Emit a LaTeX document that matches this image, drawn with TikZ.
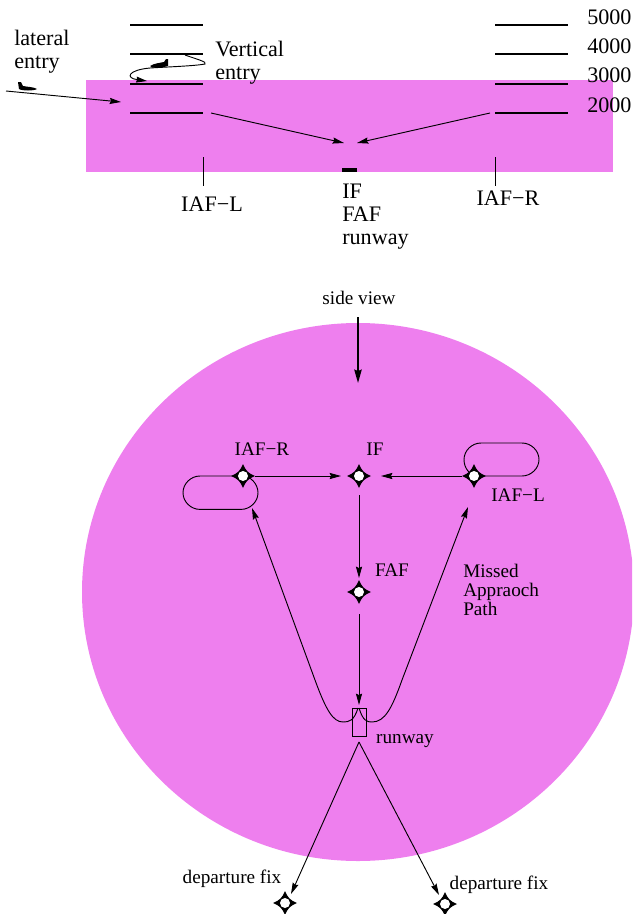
\documentclass[tikz,border=0pt]{standalone}
\usepackage{fontspec}
\setmainfont{Liberation Serif}
\usetikzlibrary{arrows.meta}
\definecolor{pinkfill}{RGB}{238,127,238}
\tikzset{
  x=0.75pt,y=-0.75pt,
  lbl/.style={inner sep=0pt,font=\fontsize{16.6}{17}\selectfont,align=left},
  lblsmall/.style={inner sep=0pt,font=\fontsize{14.4}{14.2}\selectfont,align=left},
  levelbar/.style={line width=1.8pt},
  conn/.style={line width=0.7pt,-{Stealth[length=8.5pt,width=4.6pt,inset=1pt]}},
  plainline/.style={line width=0.7pt},
  plane/.style={fill=black,draw=none},
  fixmark/.pic={
    \fill[black] (0,-12) .. controls (2.5,-5.5) and (5.5,-2.5) .. (12,0) .. controls (5.5,2.5) and (2.5,5.5) .. (0,12)
      .. controls (-2.5,5.5) and (-5.5,2.5) .. (-12,0) .. controls (-5.5,-2.5) and (-2.5,-5.5) .. (0,-12) -- cycle;
    \fill[white] (0,0) circle[radius=5];
  }
}
\begin{document}
\begin{tikzpicture}
\useasboundingbox (0,0) rectangle (632,914);
% backgrounds
\begin{scope}
\clip (0,0) rectangle (632,914);
\fill[pinkfill] (86,80) rectangle (613,172);
\fill[pinkfill] (358,592) ellipse[x radius=276,y radius=269];
\end{scope}
% level bars
\foreach \y in {25,54,84,113}{
  \draw[levelbar] (130,\y) -- (203,\y);
  \draw[levelbar] (495,\y) -- (568,\y);
}
\coordinate (lbarEnd) at (211,113);
\coordinate (rbarEnd) at (490,113);
\coordinate (ifTop) at (344,143);
\coordinate (ifTopR) at (357,143);
\coordinate (latStart) at (6,91);
\coordinate (latEnd) at (121,102);
\draw[line width=2.6pt] (342,170) -- (357,170);
\draw[conn] (lbarEnd) -- (ifTop);
\draw[conn] (rbarEnd) -- (ifTopR);
\draw[conn] (latStart) -- (latEnd);
\draw[plainline] (203,157) -- (203,186);
\draw[plainline] (495,157) -- (495,186);
% vertical entry spiral
\coordinate (vertStart) at (185,55);
\coordinate (vertEnd) at (147,81);
\draw[line width=0.7pt,-{Stealth[length=8pt,width=4.4pt,inset=0.5pt]}] (vertStart) .. controls (196,59) and (208,62) .. (205,64)
  .. controls (195,66) and (165,67) .. (150,68) .. controls (128,70) and (125,78) .. (vertEnd);
% planes
\fill[plane] (150,66) .. controls (155,63) and (160,63) .. (164,62) -- (166,59) -- (168,59) -- (168,66) .. controls (160,68) and (152,69) .. (150,66) -- cycle;
\fill[plane] (18,82) -- (21,82) -- (23,86) .. controls (28,87) and (34,87) .. (37,89) .. controls (34,91) and (22,91) .. (19,89) -- cycle;
% top labels
\node[lbl,anchor=north west] (lat) at (14,30) {lateral\\entry};
\node[lbl,anchor=north west] (vert) at (215,41) {Vertical\\entry};
\node[lbl,anchor=west] (l5) at (587,17) {5000};
\node[lbl,anchor=west] (l4) at (587,46) {4000};
\node[lbl,anchor=west] (l3) at (587,75) {3000};
\node[lbl,anchor=west] (l2) at (587,105) {2000};
\node[lbl] (iafl) at (212,204) {IAF−L};
\node[lbl] (iafr) at (508,198) {IAF−R};
\node[lbl,anchor=north west] (stack) at (342,184) {IF\\FAF\\runway};
% plan view
\node[lblsmall] (side) at (359,298) {side view};
\coordinate (sideS) at (358,317);
\coordinate (sideE) at (358,383);
\draw[line width=1.4pt,-{Stealth[length=10pt,width=5.5pt,inset=1pt]}] (sideS) -- (sideE);
\coordinate (IAFR) at (243,476);
\coordinate (IF) at (359,476);
\coordinate (IAFL) at (474,476);
\coordinate (FAF) at (359,592);
\coordinate (depL) at (285,903);
\coordinate (depR) at (445,904);
% holding patterns
\draw[plainline] (IAFR) -- (200,476) .. controls (191,476) and (183,483.5) .. (183,492.7)
  .. controls (183,502) and (191,509.4) .. (200,509.4) -- (241,509.4)
  .. controls (250,509.4) and (258,502) .. (258,492.7) .. controls (258,483.5) and (250,476) .. (IAFR);
\draw[plainline] (IAFL) -- (522,476) .. controls (531,476) and (539,468.5) .. (539,459.5)
  .. controls (539,450.5) and (531,443) .. (522,443) -- (481,443)
  .. controls (472,443) and (464,450.5) .. (464,459.5) .. controls (464,468.5) and (470,474) .. (IAFL);
% fixes
\pic at (IAFR) {fixmark};
\pic at (IF) {fixmark};
\pic at (IAFL) {fixmark};
\pic at (FAF) {fixmark};
\pic at (depL) {fixmark};
\pic at (depR) {fixmark};
% connectors
\coordinate (rnwTop) at (359,705);
\coordinate (rnwBot) at (359,742);
\draw[conn] (IAFR) ++(12,0) -- (341,476);
\draw[conn] (IAFL) ++(-12,0) -- (381,476);
\draw[conn] (359,495) -- (359,578);
\draw[conn] (359,614) -- (rnwTop);
\draw[conn] (rnwBot) -- (291,894);
\draw[conn] (rnwBot) -- (439,895);
% runway
\draw[plainline] (352,708) rectangle (366,736);
% missed approach
\draw[conn] (358,708) .. controls (354,721) and (349,722) .. (343,722)
  .. controls (333,722) and (326,710) .. (315,680) -- (252,508);
\draw[conn] (359,708) .. controls (363,721) and (367,722) .. (372,722)
  .. controls (385,722) and (392,708) .. (402,680) -- (468,507);
% plan labels
\node[lblsmall] (tR) at (262,449) {IAF−R};
\node[lblsmall] (tIF) at (375,449) {IF};
\node[lblsmall] (tL) at (518,495) {IAF−L};
\node[lblsmall] (tFAF) at (392,570) {FAF};
\node[lblsmall,anchor=north west] (miss) at (463,564) {Missed\\Appraoch\\Path};
\node[lblsmall] (tRun) at (405,741) {runway};
\node[lblsmall] (dL) at (232,879) {departure fix};
\node[lblsmall] (dR) at (499,885) {departure fix};
\end{tikzpicture}
\end{document}
